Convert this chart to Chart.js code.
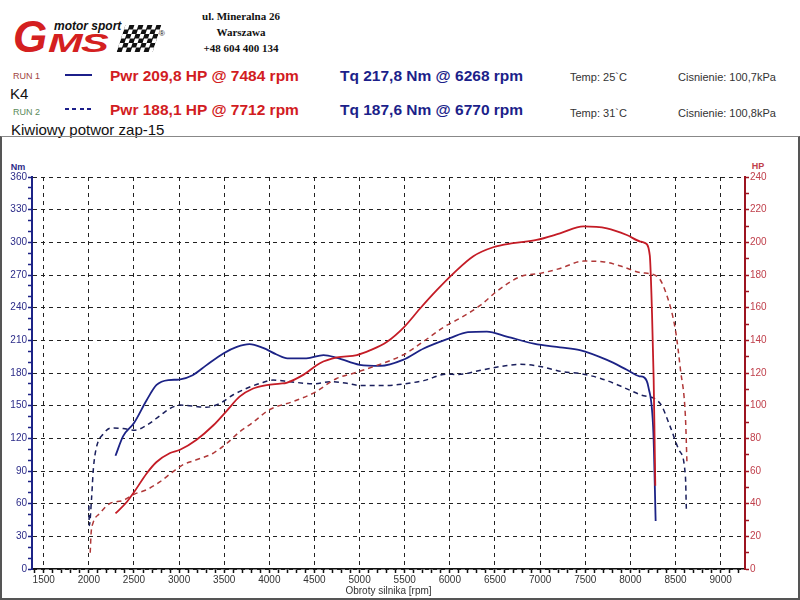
<!DOCTYPE html>
<html>
<head>
<meta charset="utf-8">
<script src="https://cdn.jsdelivr.net/npm/chart.js@4"></script>
<style>
  body { margin: 0; background: #fff; font-family: "Liberation Sans", Arial, sans-serif; }
  #wrap { position: relative; width: 800px; height: 600px; overflow: hidden; }
  .t { position: absolute; white-space: nowrap; line-height: 1; transform: translateY(-50%); }
  .c { transform: translate(-50%, -50%); }
  .pwr { font-weight: bold; font-size: 15.5px; color: #d21c22; }
  .tq { font-weight: bold; font-size: 15.5px; color: #1c1f8a; }
  .small { font-size: 11px; color: #333; }
  .addr { font-family: "Liberation Serif", serif; font-weight: bold; font-size: 11px; color: #111; }
  .logo { font-family: "Liberation Sans", Arial, sans-serif; font-style: italic; font-weight: bold; color: #d42020; }
  #frame { position: absolute; left: 0; top: 136px; width: 800px; height: 464px; box-sizing: border-box; border: 2px solid #555; border-top: 1px solid #888; }
  #chart { position: absolute; left: 0; top: 0; z-index: 2; }
</style>
</head>
<body>
<div id="wrap">
  <!-- logo -->
  <div class="t logo" style="left:13px;top:37px;font-size:44px;">G</div>
  <div class="t logo" style="left:48px;top:43px;font-size:26px;letter-spacing:-1px;transform-origin:left center;transform:translateY(-50%) scaleX(1.6);">MS</div>
  <div class="t" style="left:54px;top:26px;font:italic bold 12px 'Liberation Sans',Arial;color:#111;">motor sport</div>
  <div style="position:absolute;left:121px;top:25px;width:36px;height:27px;transform:skewX(-18deg);background:repeating-conic-gradient(#111 0 25%, #fff 0 50%) 0 0/9px 9px;"></div>
  <div class="t" style="left:159px;top:34px;font-size:8px;color:#111;">&reg;</div>

  <div class="t c addr" style="left:241px;top:16px;">ul. Mineralna 26</div>
  <div class="t c addr" style="left:241px;top:32px;">Warszawa</div>
  <div class="t c addr" style="left:241px;top:48px;">+48 604 400 134</div>

  <!-- run 1 -->
  <div class="t" style="left:13px;top:76px;font-size:9px;color:#a0443e;">RUN 1</div>
  <div style="position:absolute;left:65px;top:74px;width:27px;height:2px;background:#1c1f8a;"></div>
  <div class="t pwr" style="left:110px;top:76px;">Pwr 209,8 HP @ 7484 rpm</div>
  <div class="t tq" style="left:340px;top:76px;">Tq 217,8 Nm @ 6268 rpm</div>
  <div class="t small" style="left:570px;top:77px;">Temp: 25`C</div>
  <div class="t small" style="left:678px;top:77px;">Cisnienie: 100,7kPa</div>
  <div class="t" style="left:10px;top:93px;font-size:15px;color:#111;">K4</div>

  <!-- run 2 -->
  <div class="t" style="left:13px;top:112px;font-size:9px;color:#5a8a5a;">RUN 2</div>
  <div style="position:absolute;left:65px;top:108px;width:27px;height:2px;background:repeating-linear-gradient(90deg,#1c1f8a 0 4px,transparent 4px 7.5px);"></div>
  <div class="t pwr" style="left:110px;top:110px;">Pwr 188,1 HP @ 7712 rpm</div>
  <div class="t tq" style="left:340px;top:110px;">Tq 187,6 Nm @ 6770 rpm</div>
  <div class="t small" style="left:570px;top:113px;">Temp: 31`C</div>
  <div class="t small" style="left:678px;top:113px;">Cisnienie: 100,8kPa</div>
  <div class="t" style="left:11px;top:129px;font-size:15px;color:#111;">Kiwiowy potwor zap-15</div>

  <div id="frame"></div>
  <div class="t c" style="left:18px;top:167px;font:bold 9px 'Liberation Sans',Arial;color:#2b2b88;">Nm</div>
  <div class="t c" style="left:758px;top:166px;font:bold 9px 'Liberation Sans',Arial;color:#c0404c;">HP</div>

  <canvas id="chart" width="800" height="600"></canvas>
</div>

<script>
// run 1 torque (solid)
const tq1Rpm = [2295, 2380, 2500, 2640, 2750, 2880, 3000, 3150, 3300, 3490, 3640, 3780, 3930, 4080, 4200, 4410, 4600, 4750, 5000, 5230, 5480, 5710, 6000, 6200, 6410, 6630, 6930, 7220, 7440, 7740, 7960, 8100, 8150, 8200, 8255, 8280];
const tq1Nm  = [104, 122, 134, 155, 169, 173.5, 174, 178, 187, 198, 204, 206.5, 203, 197, 193.5, 193.5, 196.5, 194, 187.5, 186.5, 192, 202.5, 212, 217.5, 218, 213.5, 207, 203.5, 201, 192, 183, 177, 176, 167, 125, 44];

// run 2 torque (dashed)
const tq2Rpm = [2000, 2005, 2030, 2050, 2085, 2160, 2250, 2380, 2510, 2640, 2790, 2900, 3010, 3160, 3300, 3450, 3600, 3750, 3900, 4040, 4230, 4490, 4670, 4860, 5000, 5300, 5490, 5710, 5970, 6080, 6340, 6600, 6780, 7000, 7260, 7440, 7670, 7890, 8110, 8330, 8440, 8540, 8610, 8620];
const tq2Nm  = [58, 40, 65, 92, 112, 124, 129.5, 129, 127.5, 132, 141, 147.5, 150.5, 149.5, 148.5, 152, 160, 166, 170.5, 173.5, 172, 170, 172, 170.5, 168.5, 168.5, 170, 173, 179, 178.5, 182.5, 186.5, 188, 186, 181, 179.5, 175, 168, 160, 152, 131, 109, 85, 55];

// run 1 power (solid)
const pw1Rpm = [2295, 2420, 2500, 2640, 2750, 2900, 3010, 3190, 3380, 3530, 3670, 3820, 3970, 4120, 4190, 4380, 4560, 4750, 4970, 5120, 5300, 5490, 5670, 5860, 6040, 6260, 6480, 6700, 6960, 7220, 7480, 7740, 7960, 8110, 8165, 8215, 8240, 8258, 8268, 8276];
const pw1Hp  = [34, 41, 47, 58.5, 65.5, 71, 73, 79, 88, 97, 105.5, 110.5, 112.6, 113.5, 114, 119, 126, 129.5, 131, 134, 139, 148, 159.5, 171, 181, 191.5, 197, 199.5, 201.5, 205.5, 209.8, 208.6, 204.5, 200.5, 199.5, 192, 156, 116, 81, 51];

// run 2 power (dashed)
const pw2Rpm = [2015, 2025, 2045, 2120, 2230, 2380, 2510, 2640, 2790, 2930, 3050, 3200, 3380, 3530, 3670, 3800, 4000, 4260, 4500, 4740, 4970, 5260, 5480, 5700, 5930, 6110, 6340, 6520, 6780, 7000, 7220, 7480, 7710, 7890, 8110, 8300, 8410, 8500, 8555, 8610, 8627];
const pw2Hp  = [10, 22, 28, 34, 40, 42, 46, 48.5, 53.5, 59.5, 64, 67, 71, 77, 84, 89, 97.5, 102.5, 108, 116.5, 120.5, 126, 131, 139, 148, 153.5, 161.5, 170, 179, 181, 184, 188.5, 188, 185.5, 181.5, 179, 166.5, 146, 122, 93, 65];

// axis ranges and tick steps
const rpmMin = 1370, rpmMax = 9270;
const rpmFirstTick = 1400, rpmLastTick = 9200, rpmMinorStep = 100, rpmLabelStep = 500;
const nmMax = 360, hpMax = 240;

const navy = '#1c2386';
const red = '#c41c26';
const tickFont = { family: "'Liberation Sans', Arial, sans-serif", size: 10 };

function pts(xs, ys) {
  return xs.map((x, i) => ({ x: x, y: ys[i] }));
}

function isMajor(ctx, step) {
  return ctx.tick && Math.round(ctx.tick.value) % step === 0;
}

const ctx = document.getElementById('chart').getContext('2d');
new Chart(ctx, {
  type: 'line',
  data: {
    datasets: [
      { label: 'Pwr RUN 1', data: pts(pw1Rpm, pw1Hp), yAxisID: 'yHp', borderColor: red, borderWidth: 1.8 },
      { label: 'Pwr RUN 2', data: pts(pw2Rpm, pw2Hp), yAxisID: 'yHp', borderColor: '#b03838', borderWidth: 1.5, borderDash: [5, 4] },
      { label: 'Tq RUN 1', data: pts(tq1Rpm, tq1Nm), yAxisID: 'yNm', borderColor: navy, borderWidth: 1.8 },
      { label: 'Tq RUN 2', data: pts(tq2Rpm, tq2Nm), yAxisID: 'yNm', borderColor: '#1a1f5c', borderWidth: 1.5, borderDash: [5, 4] }
    ]
  },
  options: {
    responsive: false,
    animation: false,
    layout: { padding: { top: 177, left: 0, right: 0, bottom: 0 } },
    elements: {
      point: { radius: 0 },
      line: { cubicInterpolationMode: 'monotone', fill: false }
    },
    plugins: { legend: { display: false }, tooltip: { enabled: false } },
    scales: {
      x: {
        type: 'linear',
        min: rpmMin,
        max: rpmMax,
        afterBuildTicks: function(scale) {
          const ticks = [];
          for (let v = rpmFirstTick; v <= rpmLastTick; v += rpmMinorStep) ticks.push({ value: v });
          scale.ticks = ticks;
        },
        afterFit: function(scale) { scale.height = 31; },
        ticks: {
          autoSkip: false,
          maxRotation: 0,
          padding: 1,
          color: '#333',
          font: tickFont,
          callback: function(v) { return Math.round(v) % rpmLabelStep === 0 ? v : ''; }
        },
        grid: {
          color: c => isMajor(c, rpmLabelStep) ? '#222' : 'rgba(0,0,0,0)',
          lineWidth: 1,
          tickColor: '#111',
          tickLength: 4,
          tickWidth: 1.5
        },
        border: { color: '#111', width: 1.5, dash: [4, 4] },
        title: {
          display: true,
          text: 'Obroty silnika [rpm]',
          color: '#333',
          font: { family: "'Liberation Sans', Arial, sans-serif", size: 10 },
          padding: { top: 0, bottom: 3 }
        }
      },
      yNm: {
        type: 'linear',
        position: 'left',
        min: 0,
        max: nmMax,
        afterFit: function(scale) { scale.width = 32; },
        ticks: {
          stepSize: 10,
          autoSkip: false,
          padding: 1,
          color: '#2b2b88',
          font: tickFont,
          callback: function(v) { return Math.round(v) % 30 === 0 ? v : ''; }
        },
        grid: {
          color: c => isMajor(c, 30) ? '#222' : 'rgba(0,0,0,0)',
          lineWidth: 1,
          tickColor: navy,
          tickLength: 4,
          tickWidth: 1.5
        },
        border: { color: navy, width: 2, dash: [4, 4] }
      },
      yHp: {
        type: 'linear',
        position: 'right',
        min: 0,
        max: hpMax,
        afterFit: function(scale) { scale.width = 55; },
        ticks: {
          stepSize: 10,
          autoSkip: false,
          padding: 1,
          color: '#c0404c',
          font: tickFont,
          callback: function(v) { return Math.round(v) % 20 === 0 ? v : ''; }
        },
        grid: {
          drawOnChartArea: false,
          tickColor: '#9c1420',
          tickLength: 4,
          tickWidth: 1.5
        },
        border: { color: '#9c1420', width: 2 }
      }
    }
  }
});
</script>
</body>
</html>
